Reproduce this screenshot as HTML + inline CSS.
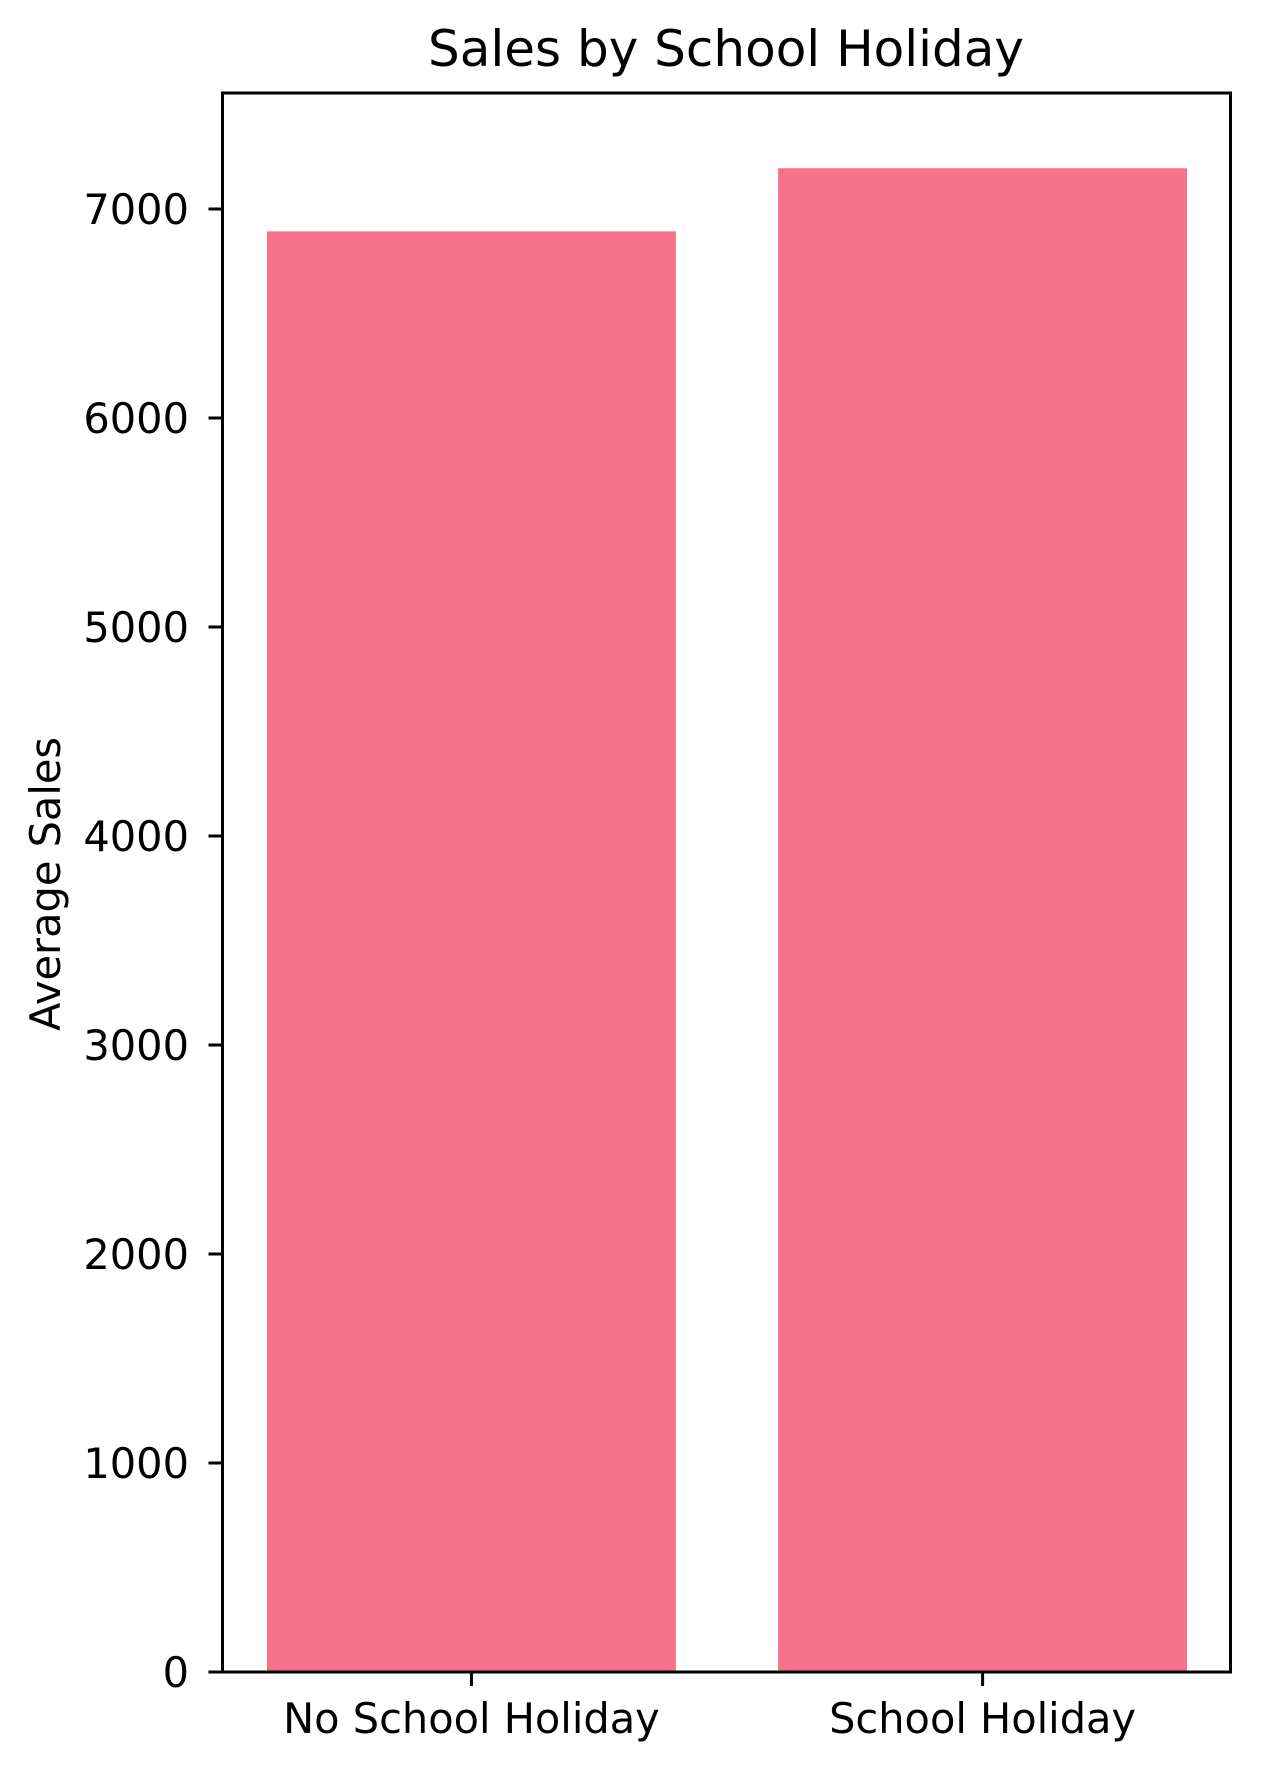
<!DOCTYPE html>
<html><head><meta charset="utf-8"><style>
html,body{margin:0;padding:0;background:#fff;}
svg{display:block;font-family:"DejaVu Sans","Liberation Sans",sans-serif;}
</style></head><body>
<svg id="chart" width="1262" height="1770" viewBox="0 0 1262 1770" xmlns="http://www.w3.org/2000/svg">
<rect width="1262" height="1770" fill="#fff"/>
<text x="726" y="66" font-size="50" text-anchor="middle" fill="#000">Sales by School Holiday</text>
<text x="0" y="0" font-size="41.5" text-anchor="middle" fill="#000" transform="translate(60,884) rotate(-90)">Average Sales</text>
<g id="bars"></g>
<g id="yticks"></g>
<g id="xticks"></g>
<rect x="222.5" y="93" width="1008" height="1579" fill="none" stroke="#000" stroke-width="3"/>
</svg>
<script>
const categories = ["No School Holiday", "School Holiday"];
const salesValues = [6893, 7195];
const yTickValues = [0, 1000, 2000, 3000, 4000, 5000, 6000, 7000];
const yTickLabels = ["0", "1000", "2000", "3000", "4000", "5000", "6000", "7000"];

const NS = "http://www.w3.org/2000/svg";
const L = 222.5, R = 1230.5, T = 93, B = 1672;
const yMin = 0, yMax = 7555;
const xMin = -0.487, xMax = 1.485;
function yScale(v){ return B - (v - yMin) / (yMax - yMin) * (B - T); }
function xScale(i){ return L + (i - xMin) / (xMax - xMin) * (R - L); }
const bw = 0.8;

const gb = document.getElementById('bars');
const gx = document.getElementById('xticks');
categories.forEach((c, i) => {
  const r = document.createElementNS(NS, 'rect');
  const x0 = xScale(i - bw/2), x1 = xScale(i + bw/2);
  r.setAttribute('x', x0);
  r.setAttribute('width', x1 - x0);
  r.setAttribute('y', yScale(salesValues[i]));
  r.setAttribute('height', yScale(0) - yScale(salesValues[i]));
  r.setAttribute('fill', '#f67288');
  
  
  gb.appendChild(r);

  const t = document.createElementNS(NS, 'line');
  t.setAttribute('x1', xScale(i)); t.setAttribute('x2', xScale(i));
  t.setAttribute('y1', B); t.setAttribute('y2', B + 14);
  t.setAttribute('stroke', '#000'); t.setAttribute('stroke-width', '3');
  
  
  gx.appendChild(t);
  const lb = document.createElementNS(NS, 'text');
  lb.setAttribute('x', xScale(i)); lb.setAttribute('y', B + 61);
  lb.setAttribute('font-size', '41.5'); lb.setAttribute('text-anchor', 'middle');
  lb.textContent = c;
  
  
  gx.appendChild(lb);
});

const gy = document.getElementById('yticks');
yTickValues.forEach((v, i) => {
  const y = yScale(v);
  const t = document.createElementNS(NS, 'line');
  t.setAttribute('x1', L - 14); t.setAttribute('x2', L);
  t.setAttribute('y1', y); t.setAttribute('y2', y);
  t.setAttribute('stroke', '#000'); t.setAttribute('stroke-width', '3');
  
  
  gy.appendChild(t);
  const lb = document.createElementNS(NS, 'text');
  lb.setAttribute('x', 189); lb.setAttribute('y', y + 15);
  lb.setAttribute('font-size', '41.5'); lb.setAttribute('text-anchor', 'end');
  lb.textContent = yTickLabels[i];
  
  
  gy.appendChild(lb);
});
</script>
</body></html>
